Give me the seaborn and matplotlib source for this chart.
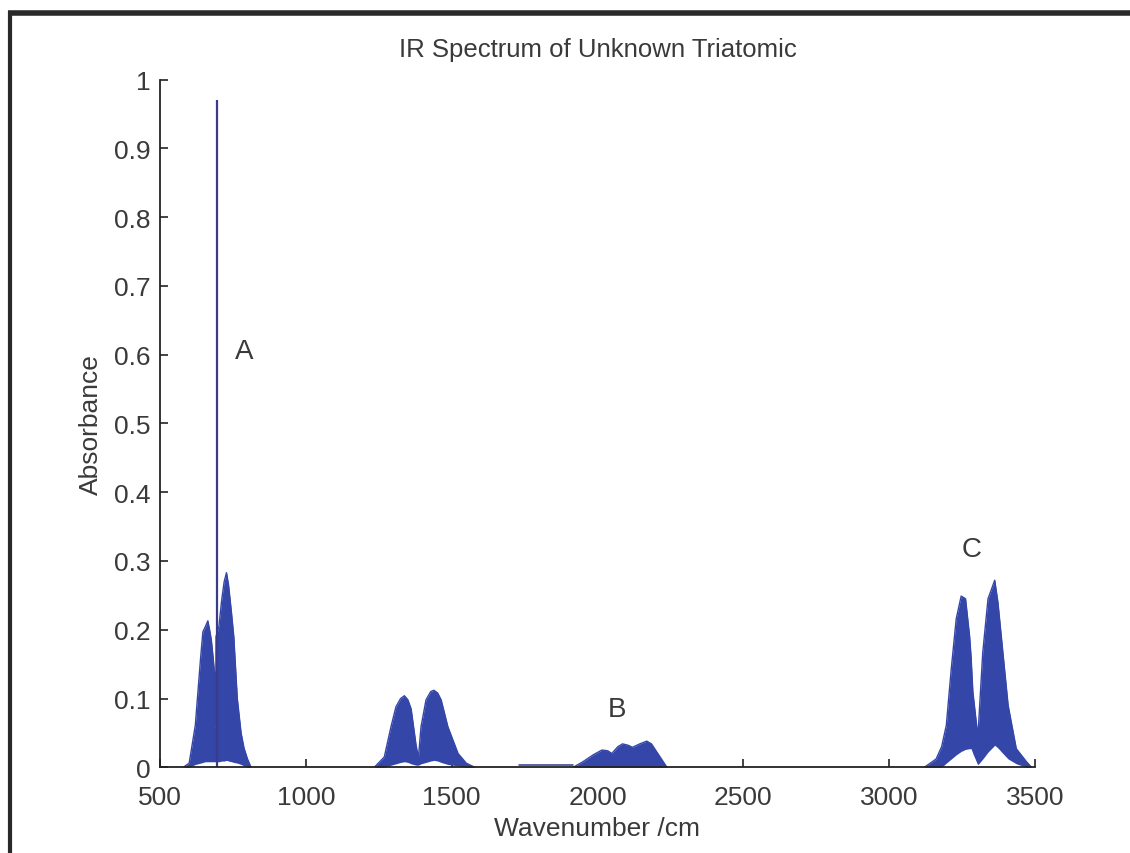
"""IR spectrum of an unknown triatomic molecule, redrawn from a scanned figure."""
import numpy as np
import pandas as pd
import seaborn as sns
import matplotlib.pyplot as plt
from matplotlib.lines import Line2D

# band envelopes (wavenumber /cm, absorbance)
A_WN = [580, 600, 621, 639, 647, 656, 664, 670, 676, 682, 687, 688, 691, 692, 702, 712, 720, 728, 735, 745, 753, 765, 778, 788, 800, 812]
A_UPPER = [0.0, 0.006, 0.061, 0.158, 0.197, 0.205, 0.213, 0.200, 0.185, 0.160, 0.137, 0.059, 0.059, 0.190, 0.205, 0.245, 0.270, 0.283, 0.265, 0.225, 0.190, 0.100, 0.050, 0.028, 0.012, 0.0]
A_LOWER = [0.0, 0.0, 0.004, 0.006, 0.007, 0.008, 0.008, 0.008, 0.008, 0.008, 0.008, 0.008, 0.008, 0.008, 0.008, 0.009, 0.009, 0.010, 0.009, 0.008, 0.007, 0.006, 0.004, 0.002, 0.0, 0.0]

SPIKE_WN = [695]
SPIKE_ABS = [0.97]

D_WN = [1235, 1269, 1292, 1309, 1325, 1338, 1350, 1361, 1378, 1386, 1395, 1412, 1428, 1439, 1452, 1464, 1487, 1522, 1550, 1579]
D_UPPER = [0.0, 0.015, 0.059, 0.088, 0.100, 0.104, 0.098, 0.085, 0.032, 0.014, 0.059, 0.098, 0.110, 0.112, 0.108, 0.098, 0.059, 0.020, 0.006, 0.0]
D_LOWER = [0.0, 0.0, 0.003, 0.005, 0.007, 0.008, 0.007, 0.005, 0.003, 0.003, 0.005, 0.007, 0.009, 0.010, 0.009, 0.007, 0.004, 0.002, 0.0, 0.0]

B_WN = [1917, 1950, 1985, 2015, 2035, 2049, 2070, 2086, 2105, 2120, 2145, 2169, 2185, 2210, 2238]
B_UPPER = [0.0, 0.008, 0.018, 0.025, 0.024, 0.020, 0.030, 0.034, 0.032, 0.029, 0.034, 0.038, 0.034, 0.018, 0.0]
B_LOWER = [0.0] * 15

C_WN = [3121, 3161, 3180, 3196, 3213, 3230, 3247, 3262, 3276, 3281, 3287, 3302, 3305, 3321, 3339, 3362, 3373, 3390, 3408, 3436, 3471, 3488]
C_UPPER = [0.0, 0.012, 0.030, 0.061, 0.143, 0.216, 0.249, 0.245, 0.190, 0.160, 0.110, 0.053, 0.050, 0.167, 0.245, 0.272, 0.240, 0.167, 0.090, 0.027, 0.008, 0.0]
C_LOWER = [0.0, 0.0, 0.0, 0.006, 0.012, 0.018, 0.023, 0.026, 0.027, 0.027, 0.020, 0.005, 0.004, 0.012, 0.022, 0.032, 0.028, 0.020, 0.012, 0.005, 0.0, 0.0]

BASE_WN = [1730, 1917]
BASE_ABS = [0.003, 0.003]

LABELS = ["A", "B", "C"]
LABEL_WN = [789, 2068, 3283]
LABEL_ABS = [0.605, 0.085, 0.318]

X_TICKS = [500, 1000, 1500, 2000, 2500, 3000, 3500]
Y_TICKS = [0, 0.1, 0.2, 0.3, 0.4, 0.5, 0.6, 0.7, 0.8, 0.9, 1]
Y_TICK_LABELS = ["0", "0.1", "0.2", "0.3", "0.4", "0.5", "0.6", "0.7", "0.8", "0.9", "1"]

FILL = "#3446a8"
TEXT = "#3a3a3a"


def bands() -> pd.DataFrame:
    frames = []
    for name, wn, up, lo in [("A", A_WN, A_UPPER, A_LOWER), ("D", D_WN, D_UPPER, D_LOWER),
                             ("B", B_WN, B_UPPER, B_LOWER), ("C", C_WN, C_UPPER, C_LOWER)]:
        frames.append(pd.DataFrame({"band": name, "wn": wn, "upper": up, "lower": lo}))
    return pd.concat(frames, ignore_index=True)


def main() -> None:
    df = bands()
    sns.set_theme(style="white")
    plt.rcParams["font.family"] = ["Liberation Sans", "DejaVu Sans"]
    fig = plt.figure(figsize=(11.3, 8.54), dpi=100)
    ax = fig.add_axes([0.1416, 0.1004, 0.7743, 0.8051])

    for name, grp in df.groupby("band", sort=False):
        ax.fill_between(grp["wn"], grp["lower"], grp["upper"], color=FILL, lw=0)
        sns.lineplot(data=grp, x="wn", y="upper", color=FILL, lw=1.0, ax=ax, legend=False)
    ax.vlines(SPIKE_WN, 0, SPIKE_ABS, color="#3b3b8c", lw=1.6)
    sns.lineplot(x=BASE_WN, y=BASE_ABS, color="#2a3a8a", lw=1.1, ax=ax)

    for label, x, y in zip(LABELS, LABEL_WN, LABEL_ABS):
        ax.text(x, y, label, ha="center", va="center", fontsize=20, color=TEXT)

    ax.set_xlim(500, 3500)
    ax.set_ylim(0, 1)
    ax.set_xticks(X_TICKS)
    ax.set_xticklabels([str(t) for t in X_TICKS])
    ax.set_yticks(Y_TICKS)
    ax.set_yticklabels(Y_TICK_LABELS)
    ax.tick_params(direction="in", length=6, width=1.2, color="#222222", labelsize=19,
                   labelcolor=TEXT, left=True, bottom=True)
    ax.tick_params(axis="y", pad=7)
    ax.tick_params(axis="x", pad=13)
    for side in ["top", "right"]:
        ax.spines[side].set_visible(False)
    for side in ["left", "bottom"]:
        ax.spines[side].set_color("#222222")
        ax.spines[side].set_linewidth(1.3)
    ax.set_xlabel("Wavenumber /cm", fontsize=19, color=TEXT, labelpad=5)
    ax.set_ylabel("Absorbance", fontsize=19, color=TEXT, labelpad=8)
    ax.set_title("IR Spectrum of Unknown Triatomic", fontsize=18.5, color=TEXT, pad=17)

    # page frame from the scanned figure
    fig.add_artist(Line2D([0.0075, 1.0], [0.984, 0.984], transform=fig.transFigure,
                          color="#2a2a2a", lw=4, solid_capstyle="butt"))
    fig.add_artist(Line2D([0.0088, 0.0088], [0.0, 0.986], transform=fig.transFigure,
                          color="#2a2a2a", lw=3, solid_capstyle="butt"))

    fig.savefig("out.png", dpi=100)
    plt.close(fig)


if __name__ == "__main__":
    main()
